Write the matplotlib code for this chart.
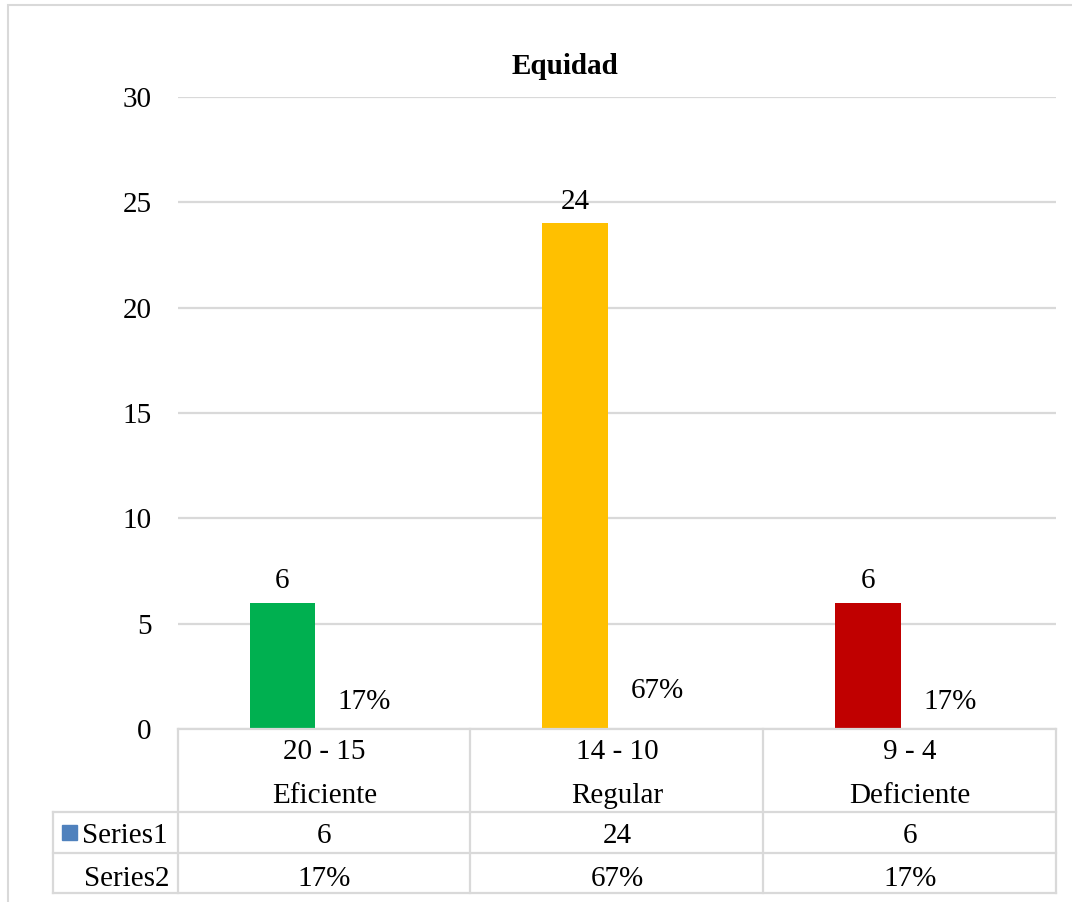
import matplotlib.pyplot as plt
from matplotlib.lines import Line2D
from matplotlib.patches import Rectangle
from matplotlib.transforms import blended_transform_factory

plt.rcParams['font.family'] = ['Liberation Serif', 'DejaVu Serif']

title = 'Equidad'
ranges = ['20 - 15', '14 - 10', '9 - 4']
levels = ['Eficiente', 'Regular', 'Deficiente']
series1 = [6, 24, 6]
series2 = [0.17, 0.67, 0.17]
series1_text = ['6', '24', '6']
series2_text = ['17%', '67%', '17%']
bar_colors = ['#00B050', '#FFC000', '#C00000']
series1_key = '#4F81BD'
grid_color = '#D9D9D9'

W, H = 1072, 902
FS = 21
fig = plt.figure(figsize=(W / 100, H / 100), dpi=100)


def fx(px):
    return px / W


def fy(py):
    return 1 - py / H


# plot area
ax = fig.add_axes([fx(178), fy(729), fx(1056) - fx(178), fy(97) - fy(729)])
ax.set_xlim(-0.5, 2.5)
ax.set_ylim(0, 30)
ax.set_yticks(range(0, 31, 5))
ax.set_xticks([])
for s in ax.spines.values():
    s.set_visible(False)
ax.tick_params(axis='y', length=0, pad=19, labelsize=FS)
for lab in ax.get_yticklabels():
    lab.set_va('center_baseline')
ax.yaxis.grid(True, color=grid_color, linewidth=1.6)
ax.set_axisbelow(True)

x = list(range(len(series1)))
x1 = [i - 0.143 for i in x]
x2 = [i + 0.137 for i in x]
ax.bar(x1, series1, width=0.225, color=bar_colors, zorder=3)
# second series has no fill, only its labels show
ax.bar(x2, series2, width=0.225, fill=False, linewidth=0, zorder=3)

for xi, v, t in zip(x1, series1, series1_text):
    ax.annotate(t, (xi, v), xytext=(0, 17.5), textcoords='offset points',
                ha='center', va='center_baseline', fontsize=FS)
for xi, v, t in zip(x2, series2, series2_text):
    ax.annotate(t, (xi, v), xytext=(0, 19), textcoords='offset points',
                ha='center', va='center_baseline', fontsize=FS)

fig.text(fx(565), fy(63), title, ha='center', va='center_baseline',
         fontsize=FS, fontweight='bold')

# data table below the plot area
tr = blended_transform_factory(ax.transData, fig.transFigure)
rows = [729, 812, 853, 893]
cols = [178, 470, 763, 1056]
lw = 1.6
for r in rows:
    x0 = 178 if r == 729 else 53
    fig.add_artist(Line2D([fx(x0), fx(1056)], [fy(r), fy(r)],
                          color=grid_color, linewidth=lw))
for c in cols:
    fig.add_artist(Line2D([fx(c), fx(c)], [fy(729), fy(893)],
                          color=grid_color, linewidth=lw))
fig.add_artist(Line2D([fx(53), fx(53)], [fy(812), fy(893)],
                      color=grid_color, linewidth=lw))

for i in x:
    ax.text(i, fy(749), ranges[i], transform=tr, ha='center', va='center_baseline', fontsize=FS)
    ax.text(i, fy(793), levels[i], transform=tr, ha='center', va='center_baseline', fontsize=FS)
    ax.text(i, fy(833), series1_text[i], transform=tr, ha='center', va='center_baseline', fontsize=FS)
    ax.text(i, fy(876), series2_text[i], transform=tr, ha='center', va='center_baseline', fontsize=FS)

fig.text(fx(168), fy(833), 'Series1', ha='right', va='center_baseline', fontsize=FS)
fig.text(fx(169), fy(876), 'Series2', ha='right', va='center_baseline', fontsize=FS)
fig.add_artist(Rectangle((fx(62), fy(840)), fx(15), fy(825) - fy(840),
                         transform=fig.transFigure, color=series1_key))

# chart border
fig.add_artist(Rectangle((fx(8), fy(910)), fx(1080), fy(5) - fy(910),
                         transform=fig.transFigure, fill=False,
                         edgecolor=grid_color, linewidth=1.5))

fig.savefig('out.png', dpi=100)
